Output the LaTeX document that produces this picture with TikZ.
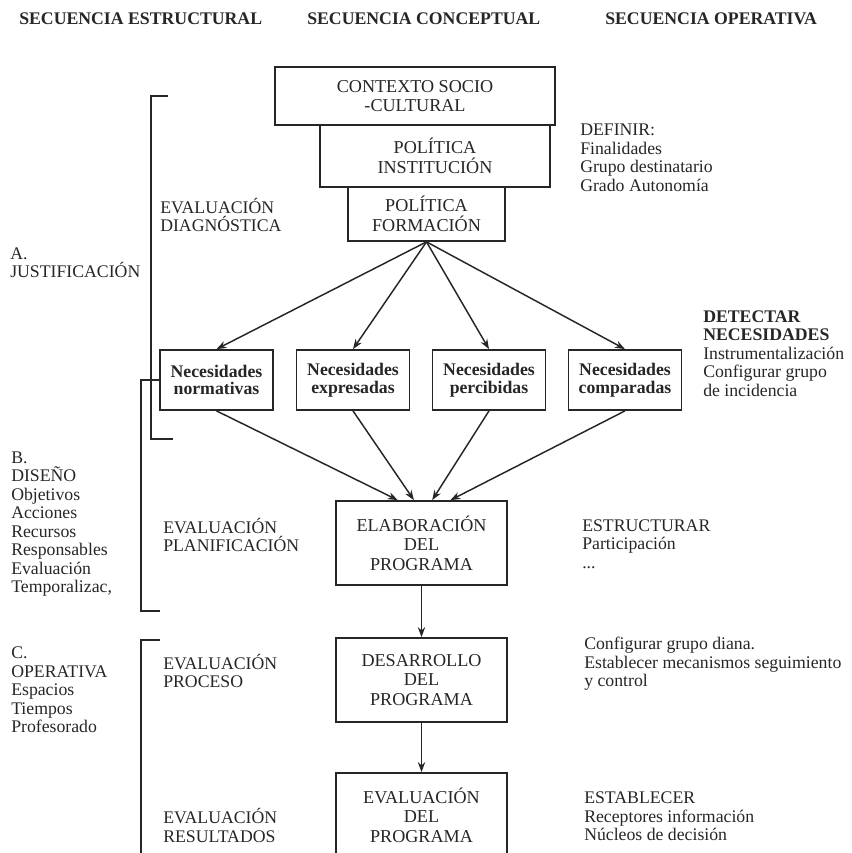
\documentclass[tikz,border=0pt]{standalone}
\usepackage{fontspec}
\setmainfont{Liberation Serif}
\usetikzlibrary{arrows.meta}
\begin{document}
\begin{tikzpicture}[x=0.75pt,y=-0.75pt,
  every node/.style={text=black!85},
  txt/.style={anchor=west,align=left,inner sep=0pt,font=\fontsize{13.3}{13.9}\selectfont},
  head/.style={anchor=west,inner sep=0pt,font=\fontsize{13.3}{13.9}\selectfont\bfseries},
  etapa/.style={draw=black!85,line width=1.3pt,fill=white,align=center,inner sep=0pt,font=\fontsize{13.6}{14.6}\selectfont},
  programa/.style={etapa,minimum width=128.25pt,minimum height=63pt},
  necesidad/.style={etapa,minimum width=84.75pt,minimum height=45pt,font=\fontsize{13.3}{13.3}\selectfont\bfseries},
  flecha/.style={draw=black!85,line width=1.1pt,-{Stealth[length=7.5pt,width=5.5pt]}},
  llave/.style={draw=black!85,line width=1pt}]
\useasboundingbox (0,0) rectangle (851,853);
\clip (0,0) rectangle (851,853);

\node[head] (hest) at (19,19) {SECUENCIA ESTRUCTURAL};
\node[head] (hcon) at (307,19) {SECUENCIA CONCEPTUAL};
\node[head] (hope) at (605,19) {SECUENCIA OPERATIVA};

\node[etapa,minimum width=210pt,minimum height=43.5pt] (ctx) at (415,96) {CONTEXTO SOCIO\\-CULTURAL};
\node[etapa,minimum width=172.5pt,minimum height=46.5pt] (ins) at (435,156) {POLÍTICA\\INSTITUCIÓN};
\node[etapa,minimum width=117.75pt,minimum height=40.5pt] (frm) at (426.5,214) {POLÍTICA\\FORMACIÓN};

\node[necesidad] (nor) at (216.5,380) {Necesidades\\normativas};
\node[necesidad] (exp) at (353,380) {Necesidades\\expresadas};
\node[necesidad] (per) at (489,380) {Necesidades\\percibidas};
\node[necesidad] (com) at (625,380) {Necesidades\\comparadas};

\node[programa] (ela) at (421.5,543) {ELABORACIÓN\\DEL\\PROGRAMA};
\node[programa] (des) at (421.5,680) {DESARROLLO\\DEL\\PROGRAMA};
\node[programa] (evp) at (421.5,815) {EVALUACIÓN\\DEL\\PROGRAMA};

\node[txt] (just) at (10,262.5) {A.\\JUSTIFICACIÓN};
\node[txt] (diag) at (160,215) {EVALUACIÓN\\DIAGNÓSTICA};
\node[txt] (defi) at (580,158) {DEFINIR:\\Finalidades\\Grupo destinatario\\Grado Autonomía};
\node[txt] (dete) at (703,353.5) {\textbf{DETECTAR}\\\textbf{NECESIDADES}\\Instrumentalización\\Configurar grupo\\de incidencia};
\node[txt] (dise) at (11,524) {B.\\DISEÑO\\Objetivos\\Acciones\\Recursos\\Responsables\\Evaluación\\Temporalizac,};
\node[txt] (plan) at (163,535) {EVALUACIÓN\\PLANIFICACIÓN};
\node[txt] (estr) at (582,544) {ESTRUCTURAR\\Participación\\...};
\node[txt] (oper) at (11,690) {C.\\OPERATIVA\\Espacios\\Tiempos\\Profesorado};
\node[txt] (proc) at (163,671) {EVALUACIÓN\\PROCESO};
\node[txt] (conf) at (584,664) {Configurar grupo diana.\\Establecer mecanismos seguimiento\\y control};
\node[txt] (esta) at (584,816.5) {ESTABLECER\\Receptores información\\Núcleos de decisión};
\node[txt] (resu) at (163,825.5) {EVALUACIÓN\\RESULTADOS};

\foreach \n in {nor,exp,per,com}
  \draw[flecha] (frm.south) -- (\n.north);
\foreach \n/\a in {nor/119,exp/100,per/76,com/56}
  \draw[flecha] (\n.south) -- (ela.\a);
\draw[flecha] (ela.south) -- (des.north);
\draw[flecha] (des.south) -- (evp.north);

\draw[llave] (168,96) -- (151,96) -- (151,439) -- (173,439);
\draw[llave] (nor.west) -- (141,380) -- (141,611) -- (160,611);
\draw[llave] (160,640) -- (141,640) -- (141,860);
\end{tikzpicture}
\end{document}
